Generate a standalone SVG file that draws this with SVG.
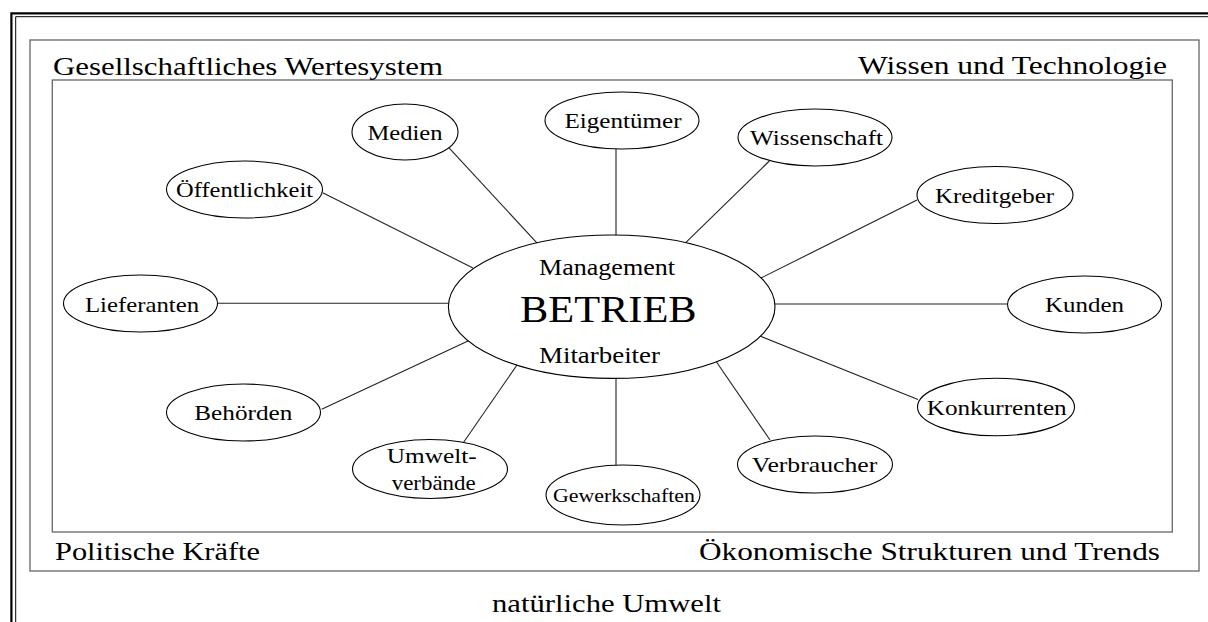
<svg xmlns="http://www.w3.org/2000/svg" width="1208" height="622" viewBox="0 0 1208 622">
<style>
.frame{fill:none;stroke:#000}
.box{fill:none;stroke:#666;stroke-width:1.3}
.node ellipse{fill:#fff;stroke:#000;stroke-width:1.1}
.lbl{font-family:"Liberation Serif","Times New Roman",serif;font-size:22px;fill:#000;text-anchor:middle}
.big{font-family:"Liberation Serif","Times New Roman",serif;font-size:26px;fill:#000}
.conn line{stroke:#222;stroke-width:1.1}
</style>
<rect width="1208" height="622" fill="#fff"/>
<path class="frame" d="M11.4,622 V13.3 H1208" stroke-width="2.2"/>
<path class="frame" d="M15.7,622 V16.7 H1208" stroke-width="1"/>
<rect class="box" x="30" y="40" width="1169" height="531"/>
<rect class="box" x="52.3" y="80" width="1120" height="452"/>
<text class="big" x="53" y="74.5" textLength="390" lengthAdjust="spacingAndGlyphs">Gesellschaftliches Wertesystem</text>
<text class="big" x="858" y="74" textLength="309" lengthAdjust="spacingAndGlyphs">Wissen und Technologie</text>
<text class="big" x="55" y="560" textLength="205" lengthAdjust="spacingAndGlyphs">Politische Kräfte</text>
<text class="big" x="699" y="560" textLength="461" lengthAdjust="spacingAndGlyphs">Ökonomische Strukturen und Trends</text>
<text class="big" x="492" y="612" textLength="229" lengthAdjust="spacingAndGlyphs">natürliche Umwelt</text>
<g class="conn">
<line x1="448.8" y1="147.7" x2="537.3" y2="243.3"/>
<line x1="616" y1="149" x2="616" y2="235"/>
<line x1="769.3" y1="161" x2="685.7" y2="242.7"/>
<line x1="917" y1="200" x2="761" y2="278"/>
<line x1="775" y1="304" x2="1007.7" y2="304"/>
<line x1="918" y1="399.5" x2="760" y2="336"/>
<line x1="770" y1="440" x2="716.5" y2="362"/>
<line x1="616" y1="378" x2="616" y2="465"/>
<line x1="463.3" y1="442.7" x2="517" y2="365"/>
<line x1="321.7" y1="409.3" x2="468" y2="341"/>
<line x1="217.7" y1="303.3" x2="448.5" y2="303.3"/>
<line x1="322.7" y1="192.7" x2="473" y2="268"/>
</g>
<g id="betrieb" class="node">
<ellipse cx="611.7" cy="306.7" rx="163.3" ry="71.7"/>
<text class="lbl" x="607" y="274.5" style="font-size:23px" textLength="136" lengthAdjust="spacingAndGlyphs">Management</text>
<text class="lbl" x="608.3" y="321.7" style="font-size:38px" textLength="176.7" lengthAdjust="spacingAndGlyphs">BETRIEB</text>
<text class="lbl" x="599.5" y="362.7" style="font-size:23px" textLength="121" lengthAdjust="spacingAndGlyphs">Mitarbeiter</text>
</g>
<g id="medien" class="node">
<ellipse cx="405" cy="132" rx="53" ry="28"/>
<text class="lbl" x="405" y="140" textLength="75" lengthAdjust="spacingAndGlyphs">Medien</text>
</g>
<g id="eigentuemer" class="node">
<ellipse cx="622" cy="120.5" rx="77" ry="28.5"/>
<text class="lbl" x="623" y="128" textLength="117" lengthAdjust="spacingAndGlyphs">Eigentümer</text>
</g>
<g id="wissenschaft" class="node">
<ellipse cx="815" cy="137.5" rx="77" ry="28.5"/>
<text class="lbl" x="816.5" y="145" textLength="133" lengthAdjust="spacingAndGlyphs">Wissenschaft</text>
</g>
<g id="oeffentlichkeit" class="node">
<ellipse cx="244.5" cy="189.5" rx="78" ry="28.5"/>
<text class="lbl" x="244.5" y="197" textLength="137" lengthAdjust="spacingAndGlyphs">Öffentlichkeit</text>
</g>
<g id="kreditgeber" class="node">
<ellipse cx="995" cy="195" rx="78" ry="28.5"/>
<text class="lbl" x="994.5" y="203" textLength="119" lengthAdjust="spacingAndGlyphs">Kreditgeber</text>
</g>
<g id="lieferanten" class="node">
<ellipse cx="140.5" cy="303.5" rx="77" ry="28.5"/>
<text class="lbl" x="142" y="311.5" textLength="114" lengthAdjust="spacingAndGlyphs">Lieferanten</text>
</g>
<g id="kunden" class="node">
<ellipse cx="1084.5" cy="304.5" rx="77" ry="28.5"/>
<text class="lbl" x="1084.5" y="311.5" textLength="79" lengthAdjust="spacingAndGlyphs">Kunden</text>
</g>
<g id="behoerden" class="node">
<ellipse cx="243.5" cy="412.5" rx="77" ry="28.5"/>
<text class="lbl" x="243.3" y="420" textLength="98" lengthAdjust="spacingAndGlyphs">Behörden</text>
</g>
<g id="konkurrenten" class="node">
<ellipse cx="996" cy="407" rx="78.5" ry="28.8"/>
<text class="lbl" x="996.7" y="415" textLength="140" lengthAdjust="spacingAndGlyphs">Konkurrenten</text>
</g>
<g id="verbraucher" class="node">
<ellipse cx="815" cy="464.5" rx="77.5" ry="28.5"/>
<text class="lbl" x="814.5" y="472" textLength="125.6" lengthAdjust="spacingAndGlyphs">Verbraucher</text>
</g>
<g id="umweltverbaende" class="node">
<ellipse cx="430" cy="469" rx="77.5" ry="29.5"/>
<text class="lbl" x="431.7" y="462.5" textLength="90" lengthAdjust="spacingAndGlyphs">Umwelt-</text>
<text class="lbl" x="433.7" y="490" textLength="84" lengthAdjust="spacingAndGlyphs">verbände</text>
</g>
<g id="gewerkschaften" class="node">
<ellipse cx="623" cy="495" rx="77" ry="30"/>
<text class="lbl" x="624" y="502" style="font-size:19px" textLength="142" lengthAdjust="spacingAndGlyphs">Gewerkschaften</text>
</g>
</svg>
